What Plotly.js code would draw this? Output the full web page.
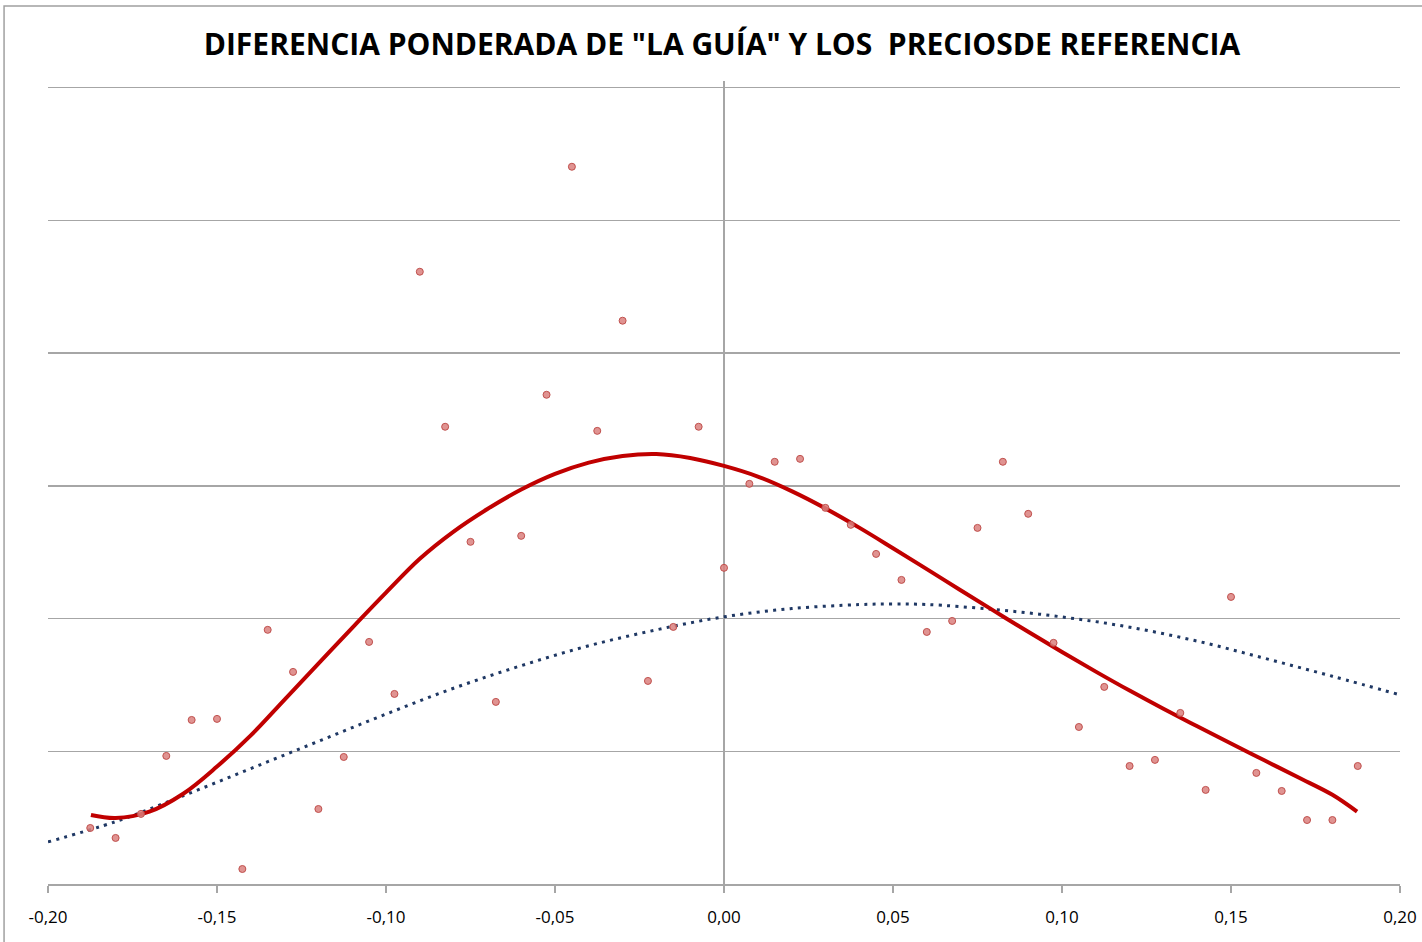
<!DOCTYPE html>
<html>
<head>
<meta charset="utf-8">
<script src="https://cdn.plot.ly/plotly-3.0.1.min.js"></script>
<style>
  html, body { margin: 0; padding: 0; background: #ffffff; }
  #chart { width: 1422px; height: 942px; }
</style>
</head>
<body>
<div id="chart"></div>
<script>
// Scatter points: weighted difference
const pointX = [-0.1875, -0.18, -0.1725, -0.165, -0.1575, -0.15, -0.1425, -0.135, -0.1275, -0.12,
  -0.1125, -0.105, -0.0975, -0.09, -0.0825, -0.075, -0.0675, -0.06, -0.0525, -0.045,
  -0.0375, -0.03, -0.0225, -0.015, -0.0075, 0, 0.0075, 0.015, 0.0225, 0.03,
  0.0375, 0.045, 0.0525, 0.06, 0.0675, 0.075, 0.0825, 0.09, 0.0975, 0.105,
  0.1125, 0.12, 0.1275, 0.135, 0.1425, 0.15, 0.1575, 0.165, 0.1725, 0.18, 0.1875];
const pointY = [0.422, 0.347, 0.528, 0.965, 1.236, 1.244, 0.113, 1.915, 1.598, 0.565,
  0.957, 1.824, 1.432, 4.613, 3.445, 2.578, 1.372, 2.623, 3.686, 5.404,
  3.414, 4.244, 1.530, 1.937, 3.445, 2.382, 3.015, 3.181, 3.203, 2.834,
  2.706, 2.487, 2.291, 1.899, 1.982, 2.683, 3.181, 2.789, 1.817, 1.183,
  1.485, 0.889, 0.935, 1.289, 0.709, 2.163, 0.837, 0.701, 0.482, 0.482, 0.889];

// Red solid trend line
const redTrendX = [-0.1873, -0.18, -0.17, -0.16, -0.15, -0.14, -0.13, -0.12, -0.11, -0.10,
  -0.09, -0.08, -0.07, -0.06, -0.05, -0.04, -0.03, -0.02, -0.01, 0,
  0.01, 0.02, 0.03, 0.04, 0.05, 0.06, 0.07, 0.08, 0.09, 0.10,
  0.11, 0.12, 0.13, 0.14, 0.15, 0.16, 0.17, 0.18, 0.1873];
const redTrendY = [0.520, 0.497, 0.545, 0.680, 0.885, 1.120, 1.390, 1.660, 1.930, 2.195,
  2.450, 2.655, 2.825, 2.972, 3.090, 3.175, 3.225, 3.240, 3.210, 3.150,
  3.070, 2.960, 2.830, 2.685, 2.530, 2.372, 2.213, 2.056, 1.900, 1.748,
  1.600, 1.457, 1.320, 1.188, 1.058, 0.930, 0.802, 0.672, 0.545];

// Blue dotted trend line
const blueTrendX = [-0.20, -0.18, -0.16, -0.14, -0.12, -0.10, -0.08, -0.06, -0.04, -0.02,
  0, 0.02, 0.04, 0.05, 0.06, 0.08, 0.10, 0.12, 0.14, 0.16, 0.18, 0.20];
const blueTrendY = [0.317, 0.470, 0.665, 0.870, 1.075, 1.280, 1.475, 1.645, 1.795, 1.915,
  2.013, 2.075, 2.105, 2.110, 2.106, 2.068, 2.012, 1.935, 1.830, 1.700, 1.565, 1.425];

// Axis ticks
const xTickVals = [-0.20, -0.15, -0.10, -0.05, 0.00, 0.05, 0.10, 0.15, 0.20];
const xTickText = ["-0,20", "-0,15", "-0,10", "-0,05", "0,00", "0,05", "0,10", "0,15", "0,20"];
const yGridVals = [1, 2, 3, 4, 5, 6];

const titleText = 'DIFERENCIA PONDERADA DE "LA GUÍA" Y LOS  PRECIOSDE REFERENCIA';

const traces = [
  {
    x: blueTrendX, y: blueTrendY, type: 'scatter', mode: 'lines',
    line: { color: '#1f3864', width: 3, dash: '3px,5.3px', shape: 'spline', smoothing: 1 },
    hoverinfo: 'skip', showlegend: false
  },
  {
    x: redTrendX, y: redTrendY, type: 'scatter', mode: 'lines',
    line: { color: '#c00000', width: 4, shape: 'spline', smoothing: 1 },
    hoverinfo: 'skip', showlegend: false
  },
  {
    x: pointX, y: pointY, type: 'scatter', mode: 'markers',
    marker: { size: 7, color: 'rgba(218,128,126,0.85)', line: { color: '#c0504d', width: 1 } },
    showlegend: false
  }
];

const layout = {
  width: 1422, height: 942,
  paper_bgcolor: '#ffffff', plot_bgcolor: '#ffffff',
  margin: { l: 48, r: 22, t: 81, b: 58, pad: 0 },
  showlegend: false,
  title: {
    text: titleText,
    x: 0.5077, xref: 'container', xanchor: 'center',
    y: 0.953, yref: 'container', yanchor: 'middle',
    font: { family: '"Open Sans", sans-serif', size: 30, color: '#000000', weight: 'bold' }
  },
  xaxis: {
    range: [-0.2, 0.2], tickvals: xTickVals, ticktext: xTickText,
    showgrid: false,
    zeroline: true, zerolinecolor: '#a6a6a6', zerolinewidth: 1.5,
    showline: true, linecolor: '#a6a6a6', linewidth: 1.5,
    ticks: 'outside', ticklen: 7, tickcolor: '#a6a6a6', tickwidth: 1.5,
    ticklabelstandoff: 10,
    tickfont: { family: '"Open Sans", sans-serif', size: 17, color: '#000000' },
    fixedrange: true
  },
  yaxis: {
    range: [0, 6.05], tickmode: 'array', tickvals: yGridVals,
    showgrid: true, gridcolor: '#a6a6a6', gridwidth: 1.5,
    zeroline: false, showline: false, ticks: '', showticklabels: false,
    fixedrange: true
  },
  shapes: [
    { type: 'rect', xref: 'paper', yref: 'paper',
      x0: -0.0325, x1: 1.2, y0: -0.3, y1: 1.0935,
      line: { color: '#a0a0a0', width: 1.5 }, fillcolor: 'rgba(0,0,0,0)', layer: 'below' }
  ]
};

Plotly.newPlot('chart', traces, layout, { displayModeBar: false, staticPlot: true });
</script>
</body>
</html>
